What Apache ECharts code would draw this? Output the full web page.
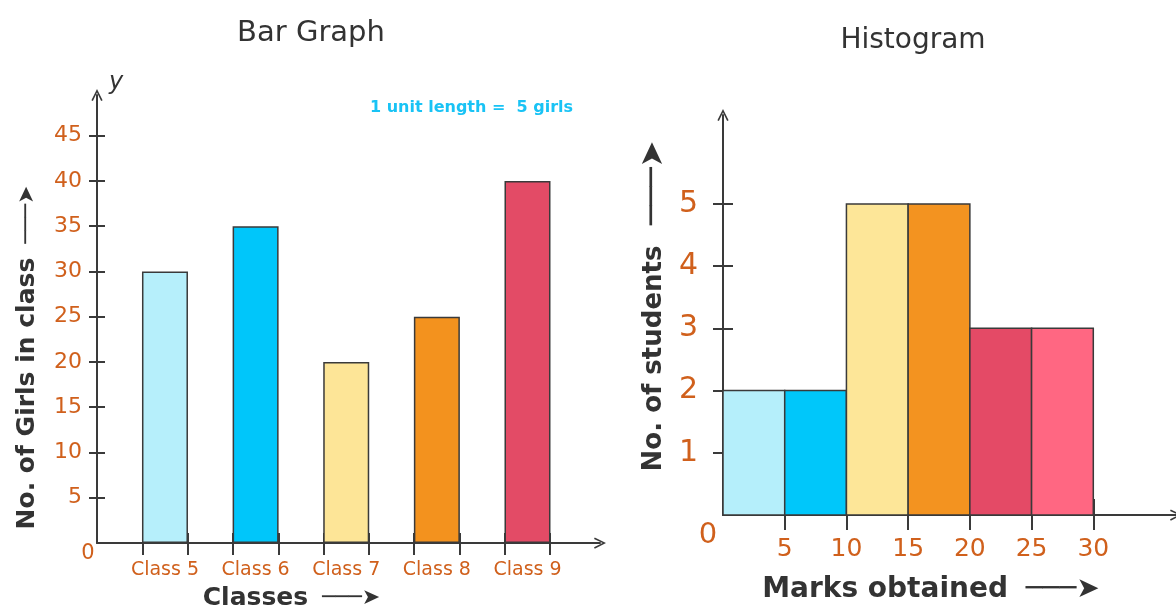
<!DOCTYPE html>
<html>
<head>
<meta charset="utf-8">
<script src="https://cdn.jsdelivr.net/npm/echarts@6/dist/echarts.min.js"></script>
<style>
  html, body { margin: 0; padding: 0; background: #fff; }
  #main { width: 1176px; height: 608px; }
</style>
</head>
<body>
<div id="main"></div>
<script>
// bar graph data
const classes = ['Class 5', 'Class 6', 'Class 7', 'Class 8', 'Class 9'];
const girls = [30, 35, 20, 25, 40];
const girlTicks = [5, 10, 15, 20, 25, 30, 35, 40, 45];
const barColors = ['#b6effb', '#00c6fa', '#fde597', '#f3921e', '#e34b66'];

// histogram data
const markBins = [0, 5, 10, 15, 20, 25, 30];
const students = [2, 2, 5, 5, 3, 3];
const studentTicks = [1, 2, 3, 4, 5];
const markTicks = [5, 10, 15, 20, 25, 30];
const histColors = ['#b5effb', '#00c7fa', '#fde698', '#f39320', '#e44a66', '#ff6782'];

const font = 'DejaVu Sans';
const axisColor = '#3a3a3a';
const labelColor = '#d0601c';
const textColor = '#333333';
const chevron = 'path://M0,12 L6,0 L12,12 L10.4,12.8 L6,3.6 L1.6,12.8 Z';
const arrow = '───➤';

// class positions on the value axis: one unit gap, one unit bar
const classPos = classes.map((c, i) => 1.5 + 2 * i);
const classEdges = [];
classes.forEach((c, i) => { classEdges.push(1 + 2 * i, 2 + 2 * i); });

var dom = document.getElementById('main');
var myChart = echarts.init(dom);

function lineAxis() {
    return { show: true, onZero: true, symbol: ['none', chevron], symbolSize: [16, 12], lineStyle: { color: axisColor, width: 2 } };
}

function nameRich(size, arrowSize) {
    return {
        t: { fontFamily: font, fontSize: size, fontWeight: 'bold', color: textColor },
        a: { fontFamily: font, fontSize: arrowSize, color: textColor }
    };
}

var option = {
    animation: false,
    textStyle: { fontFamily: font },
    title: [
        { text: 'Bar Graph', left: 306, top: 14, textAlign: 'center',
          textStyle: { fontFamily: font, fontSize: 29, fontWeight: 'normal', color: textColor } },
        { text: 'Histogram', left: 908, top: 22, textAlign: 'center',
          textStyle: { fontFamily: font, fontSize: 28, fontWeight: 'normal', color: textColor } },
        { text: '1 unit length =  5 girls', left: 365, top: 95,
          textStyle: { fontFamily: font, fontSize: 16, fontWeight: 'bold', color: '#19c3f5' } }
    ],
    grid: [
        { left: 97, top: 95, width: 503, bottom: 65, outerBoundsMode: 'none' },
        { left: 723, top: 115, width: 453, bottom: 93, outerBoundsMode: 'none' }
    ],
    xAxis: [
        {
            gridIndex: 0, type: 'value', position: 'bottom', min: 0, max: 11.1,
            axisLine: lineAxis(),
            splitLine: { show: false },
            axisTick: { show: true, customValues: classEdges, length: 12, lineStyle: { color: axisColor, width: 2 } },
            axisLabel: {
                customValues: [0].concat(classPos), margin: 0,
                formatter: v => v === 0 ? '{o|0}' : '{c|' + classes[classPos.indexOf(v)] + '}',
                rich: {
                    o: { fontFamily: font, fontSize: 21, color: labelColor, padding: [0, 18, 0, 0] },
                    c: { fontFamily: font, fontSize: 19, color: labelColor, padding: [18, 0, 0, 0] }
                }
            },
            name: '{t|Classes}{a|  ' + arrow + '}', nameLocation: 'middle', nameGap: 43,
            nameTextStyle: { padding: [0, 114, 0, 0], rich: nameRich(25, 22) }
        },
        {
            gridIndex: 0, type: 'value', position: 'bottom', offset: 0, min: 0, max: 11.1,
            axisLine: { show: false }, splitLine: { show: false }, axisLabel: { show: false },
            axisTick: { show: true, inside: true, customValues: classEdges, length: 10, lineStyle: { color: axisColor, width: 2 } }
        },
        {
            gridIndex: 1, type: 'value', position: 'bottom', min: 0, max: 36.7,
            axisLine: lineAxis(),
            splitLine: { show: false },
            axisTick: { show: true, customValues: markTicks, length: 15, lineStyle: { color: axisColor, width: 2 } },
            axisLabel: {
                customValues: [0].concat(markTicks), margin: 6,
                formatter: v => v === 0 ? '{o|0}' : '{v|' + v + '}',
                rich: {
                    o: { fontFamily: font, fontSize: 29, color: labelColor, padding: [0, 30, 0, 0] },
                    v: { fontFamily: font, fontSize: 25, color: labelColor, padding: [16, 0, 0, 0] }
                }
            },
            name: '{t|Marks obtained}{a|  ' + arrow + '}', nameLocation: 'middle', nameGap: 61,
            nameTextStyle: { padding: [0, 37, 0, 0], rich: nameRich(28, 28) }
        },
        {
            gridIndex: 1, type: 'value', position: 'bottom', offset: 0, min: 0, max: 36.7,
            axisLine: { show: false }, splitLine: { show: false }, axisLabel: { show: false },
            axisTick: { show: true, inside: true, customValues: markTicks, length: 16, lineStyle: { color: axisColor, width: 2 } }
        }
    ],
    yAxis: [
        {
            gridIndex: 0, type: 'value', position: 'left', min: 0, max: 49.5, interval: 5,
            axisLine: lineAxis(),
            splitLine: { show: false },
            axisTick: { show: true, customValues: girlTicks, length: 8, lineStyle: { color: axisColor, width: 2 } },
            axisLabel: { customValues: girlTicks, margin: 15, fontFamily: font, fontSize: 22, color: labelColor },
            name: 'y', nameLocation: 'end', nameGap: 0,
            nameTextStyle: { fontFamily: font, fontSize: 24, fontStyle: 'italic', color: textColor, align: 'left', padding: [0, 0, 0, 12] }
        },
        {
            gridIndex: 0, type: 'value', position: 'left', offset: 0, min: 0, max: 49.5, interval: 5,
            axisLine: { show: false }, splitLine: { show: false }, axisLabel: { show: false },
            axisTick: { show: true, inside: true, customValues: girlTicks, length: 8, lineStyle: { color: axisColor, width: 2 } },
            name: '{t|No. of Girls in class}{a|  ' + arrow + '}', nameLocation: 'middle', nameRotate: 90, nameGap: 57,
            nameTextStyle: { padding: [0, 77, 0, 0], rich: nameRich(25, 22) }
        },
        {
            gridIndex: 1, type: 'value', position: 'left', min: 0, max: 6.43, interval: 1,
            axisLine: lineAxis(),
            splitLine: { show: false },
            axisTick: { show: true, customValues: studentTicks, length: 10, lineStyle: { color: axisColor, width: 2 } },
            axisLabel: { customValues: studentTicks, margin: 25, fontFamily: font, fontSize: 30, color: labelColor }
        },
        {
            gridIndex: 1, type: 'value', position: 'left', offset: 0, min: 0, max: 6.43, interval: 1,
            axisLine: { show: false }, splitLine: { show: false }, axisLabel: { show: false },
            axisTick: { show: true, inside: true, customValues: studentTicks, length: 10, lineStyle: { color: axisColor, width: 2 } },
            name: '{t|No. of students}{a|  ' + arrow + '}', nameLocation: 'middle', nameRotate: 90, nameGap: 53,
            nameTextStyle: { padding: [0, 0, 0, 18], rich: nameRich(26, 32) }
        }
    ],
    series: [
        {
            type: 'bar', xAxisIndex: 0, yAxisIndex: 0, barWidth: 46,
            data: girls.map((v, i) => ({ value: [classPos[i], v], itemStyle: { color: barColors[i] } })),
            itemStyle: { borderColor: axisColor, borderWidth: 1.5 }
        },
        {
            type: 'custom', xAxisIndex: 2, yAxisIndex: 2,
            data: students.map((v, i) => [markBins[i], markBins[i + 1], v]),
            encode: { x: [0, 1], y: 2 },
            renderItem: function (params, api) {
                var p0 = api.coord([api.value(0), 0]);
                var p1 = api.coord([api.value(1), api.value(2)]);
                return {
                    type: 'rect',
                    shape: { x: p0[0], y: p1[1], width: p1[0] - p0[0], height: p0[1] - p1[1] },
                    style: { fill: histColors[params.dataIndex], stroke: axisColor, lineWidth: 1.5 }
                };
            }
        }
    ]
};

myChart.setOption(option);
</script>
</body>
</html>
